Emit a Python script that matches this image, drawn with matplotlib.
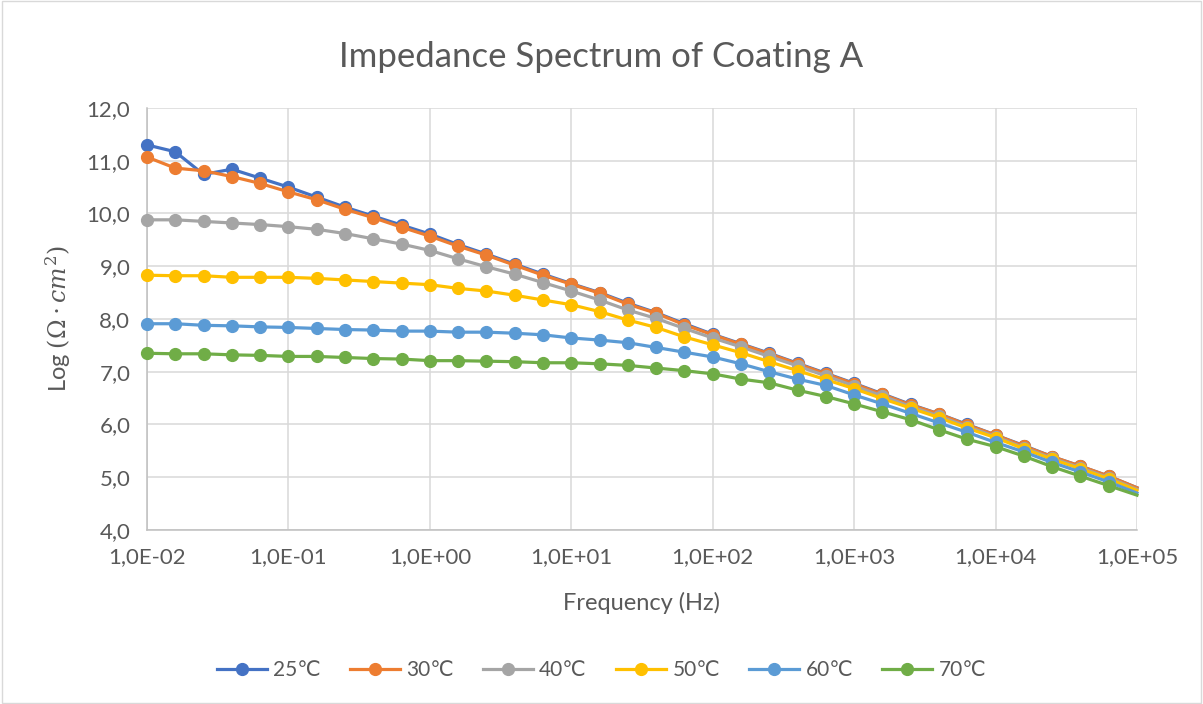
import matplotlib
matplotlib.use("Agg")
import matplotlib.pyplot as plt
from matplotlib.ticker import FuncFormatter, FixedLocator

plt.rcParams['font.family'] = ['Lato', 'DejaVu Sans']
plt.rcParams['mathtext.fontset'] = 'dejavuserif'

# frequency (Hz), 5 points per decade
freq = [1.0e-2, 1.585e-2, 2.512e-2, 3.981e-2, 6.310e-2,
        1.0e-1, 1.585e-1, 2.512e-1, 3.981e-1, 6.310e-1,
        1.0e0, 1.585e0, 2.512e0, 3.981e0, 6.310e0,
        1.0e1, 1.585e1, 2.512e1, 3.981e1, 6.310e1,
        1.0e2, 1.585e2, 2.512e2, 3.981e2, 6.310e2,
        1.0e3, 1.585e3, 2.512e3, 3.981e3, 6.310e3,
        1.0e4, 1.585e4, 2.512e4, 3.981e4, 6.310e4,
        1.0e5]

z25 = [11.30, 11.17, 10.74, 10.84, 10.67, 10.50, 10.31, 10.12, 9.95, 9.78,
       9.61, 9.41, 9.23, 9.04, 8.85, 8.67, 8.50, 8.30, 8.12, 7.91,
       7.71, 7.53, 7.35, 7.16, 6.97, 6.78, 6.58, 6.38, 6.20, 6.00,
       5.80, 5.60, 5.39, 5.21, 5.02, 4.80]
z30 = [11.07, 10.86, 10.81, 10.70, 10.57, 10.41, 10.26, 10.08, 9.92, 9.74,
       9.57, 9.38, 9.21, 9.02, 8.83, 8.66, 8.49, 8.28, 8.11, 7.89,
       7.70, 7.52, 7.34, 7.15, 6.96, 6.77, 6.57, 6.37, 6.20, 5.99,
       5.80, 5.59, 5.39, 5.21, 5.02, 4.80]
z40 = [9.88, 9.88, 9.85, 9.82, 9.79, 9.75, 9.70, 9.62, 9.52, 9.42,
       9.30, 9.14, 8.99, 8.85, 8.69, 8.53, 8.36, 8.17, 8.01, 7.82,
       7.64, 7.47, 7.29, 7.11, 6.92, 6.73, 6.54, 6.34, 6.16, 5.96,
       5.77, 5.56, 5.36, 5.18, 4.99, 4.77]
z50 = [8.83, 8.82, 8.82, 8.79, 8.79, 8.79, 8.77, 8.74, 8.71, 8.68,
       8.65, 8.58, 8.53, 8.45, 8.36, 8.27, 8.14, 7.98, 7.84, 7.66,
       7.51, 7.36, 7.19, 7.02, 6.85, 6.68, 6.49, 6.31, 6.13, 5.93,
       5.75, 5.54, 5.34, 5.16, 4.97, 4.75]
z60 = [7.91, 7.91, 7.88, 7.87, 7.85, 7.84, 7.82, 7.80, 7.79, 7.77,
       7.77, 7.75, 7.75, 7.73, 7.70, 7.64, 7.60, 7.55, 7.46, 7.37,
       7.28, 7.15, 7.00, 6.86, 6.74, 6.56, 6.39, 6.21, 6.03, 5.85,
       5.66, 5.48, 5.28, 5.10, 4.91, 4.70]
z70 = [7.35, 7.34, 7.34, 7.32, 7.31, 7.29, 7.29, 7.27, 7.25, 7.24,
       7.21, 7.21, 7.20, 7.19, 7.17, 7.17, 7.15, 7.12, 7.07, 7.02,
       6.96, 6.86, 6.79, 6.65, 6.53, 6.39, 6.24, 6.09, 5.90, 5.72,
       5.58, 5.40, 5.20, 5.02, 4.84, 4.66]

labels = ['25℃', '30℃', '40℃', '50℃', '60℃', '70℃']
colors = ['#4472C4', '#ED7D31', '#A5A5A5', '#FFC000', '#5B9BD5', '#70AD47']
series = [z25, z30, z40, z50, z60, z70]

fig = plt.figure(figsize=(12.03, 7.04), dpi=100)
ax = fig.add_axes([0.1222, 0.2472, 0.8229, 0.5994])

for z, lab, c in zip(series, labels, colors):
    ax.plot(freq, z, color=c, lw=2.3, marker='o', ms=8.5, label=lab,
            markevery=list(range(len(freq) - 1)), clip_on=False, zorder=3)

ax.set_xscale('log')
ax.set_xlim(1e-2, 1e5)
ax.set_ylim(4, 12)
ax.xaxis.set_major_locator(FixedLocator([10.0 ** k for k in range(-2, 6)]))
ax.xaxis.set_minor_locator(FixedLocator([]))
ax.set_yticks([4, 5, 6, 7, 8, 9, 10, 11, 12])


def xfmt(v, pos):
    s = '%.1E' % v
    return s.replace('.', ',')


ax.xaxis.set_major_formatter(FuncFormatter(xfmt))
ax.yaxis.set_major_formatter(FuncFormatter(lambda v, p: ('%.1f' % v).replace('.', ',')))

ax.grid(True, color='#d9d9d9', lw=1.1)
ax.set_axisbelow(True)
for s in ['top', 'right']:
    ax.spines[s].set_visible(False)
for s in ['left', 'bottom']:
    ax.spines[s].set_color('#bfbfbf')
    ax.spines[s].set_linewidth(1.1)
ax.tick_params(length=0, labelsize=16, colors='#595959', pad=12)

fig.text(0.5, 0.919, 'Impedance Spectrum of Coating A', fontsize=25, color='#595959',
         ha='center', va='center')
ax.set_xlabel('Frequency (Hz)', fontsize=17, color='#595959', labelpad=18)
ax.set_ylabel(r'Log $(\Omega \cdot cm^{2})$', fontsize=17, color='#595959', labelpad=10)

fig.legend(loc='center', bbox_to_anchor=(0.5, 0.048), ncol=6, frameon=False,
           fontsize=15, labelcolor='#595959', handlelength=2.4,
           columnspacing=1.4, handletextpad=0.3)

fig.patches.append(plt.Rectangle((0.002, 0.002), 0.996, 0.996, transform=fig.transFigure,
                                 fill=False, edgecolor='#d9d9d9', lw=1))

fig.savefig('out.png', dpi=100)
